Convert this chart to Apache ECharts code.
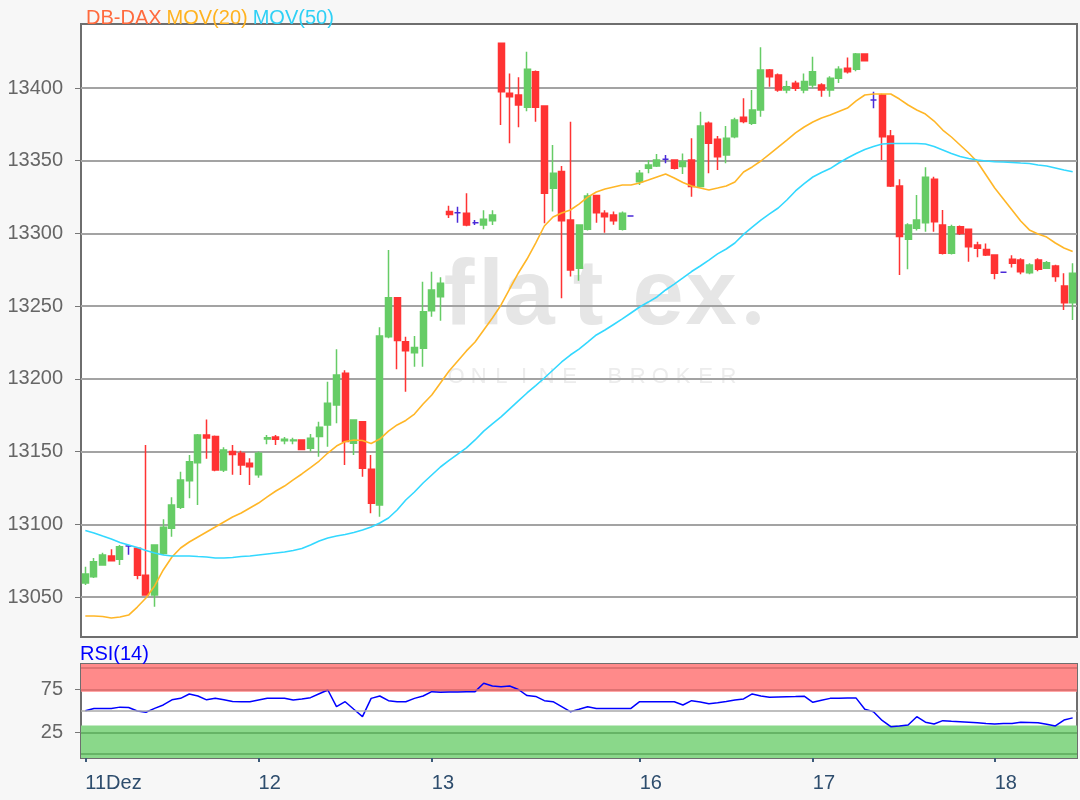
<!DOCTYPE html>
<html>
<head>
<meta charset="utf-8">
<title>DB-DAX</title>
<script src="https://cdn.jsdelivr.net/npm/echarts@6/dist/echarts.min.js"></script>
<style>
  html, body { margin: 0; padding: 0; background: #f7f7f7; }
  #chart { width: 1080px; height: 800px; }
</style>
</head>
<body>
<div id="chart"></div>
<script>
// Kerzen (Index 0..114)
var dayIndex = [0, 20, 40, 64, 84, 105];
var dayNames = ['11Dez', '12', '13', '16', '17', '18'];

var opens = [13059.6, 13064, 13072, 13078.2, 13076, 13085, 13083.5, 13065, 13051.4, 13080,
  13097.2, 13111.7, 13130, 13142.4, 13161.4, 13160.3, 13137.3, 13150, 13148.8, 13142,
  13134, 13158.6, 13160, 13157.5, 13157.5, 13158, 13152.3, 13160.3, 13168.3, 13182,
  13203.8, 13155.7, 13170.5, 13137.8, 13113.3, 13229, 13255.8, 13225.6, 13218, 13221,
  13246.9, 13256.5, 13315, 13314.3, 13313.8, 13307.4, 13305.8, 13308.8, 13430.7, 13396.3,
  13395.2, 13386.7, 13411.2, 13387.6, 13331, 13342.5, 13309.2, 13276, 13302.8, 13326,
  13313.8, 13312.7, 13302.8, 13312, 13335.6, 13344.8, 13346.4, 13351, 13350.5, 13346,
  13350.5, 13332.2, 13375.7, 13364.7, 13353.9, 13366.5, 13379.9, 13375.7, 13384.9, 13412.4,
  13409, 13398.6, 13403.2, 13398.6, 13402, 13402, 13398.6, 13406.7, 13413.6, 13412.9,
  13423.4, 13391.7, 13395.2, 13367, 13332.6, 13296, 13303.5, 13307.4, 13337.2, 13305.8,
  13286.3, 13304.6, 13302.8, 13292, 13289, 13285.2, 13273.3, 13282.2, 13281.7, 13273,
  13281.7, 13276, 13277.6, 13263.9, 13252.4];
var closes = [13065.8, 13074.3, 13078.9, 13075, 13084.6, 13085, 13065, 13051.4, 13085.7, 13098,
  13113.3, 13130.5, 13143, 13161.4, 13159.4, 13137.3, 13151, 13148, 13140.8, 13139.6,
  13148.8, 13159.5, 13158.5, 13158.5, 13158, 13151.5, 13159.1, 13166.7, 13183.2, 13202.6,
  13156.9, 13171.7, 13138.5, 13114.5, 13229.5, 13255.8, 13226.3, 13219.4, 13221.5, 13246.2,
  13261.1, 13265.7, 13313, 13314.3, 13305.8, 13307.4, 13309.7, 13312.7, 13397.5, 13394,
  13388.3, 13412.9, 13386.7, 13327.6, 13341.3, 13308.8, 13274.9, 13305.8, 13325.7, 13314.3,
  13311.5, 13308.8, 13313.8, 13312, 13341.3, 13347, 13350.5, 13351, 13344.8, 13349.4,
  13332.2, 13373.9, 13362, 13352.8, 13365.4, 13378, 13376.9, 13384.9, 13412.4, 13407.8,
  13398.6, 13400.9, 13399.8, 13404.4, 13411.2, 13398.6, 13406.7, 13412.9, 13411.2, 13423.4,
  13418.8, 13391.7, 13366.5, 13332.6, 13297.8, 13305.8, 13309.2, 13338.6, 13308.1, 13286.3,
  13304.6, 13300, 13290.9, 13289.8, 13285.2, 13272.6, 13273.3, 13279.5, 13273.7, 13278.3,
  13275.3, 13279.9, 13270.3, 13252.4, 13272.6];
var lows = [13058.3, 13063, 13071.5, 13074.5, 13072, 13079, 13062.2, 13051, 13043.3, 13079,
  13091.5, 13110.5, 13117.9, 13113.3, 13145, 13136.5, 13136, 13134, 13133.9, 13127,
  13132, 13155, 13154.5, 13155, 13155, 13151, 13150, 13146.5, 13153.3, 13169.4,
  13140.8, 13147.6, 13132.7, 13107.6, 13105.2, 13228, 13206.6, 13191.2, 13208.4, 13208.4,
  13242.7, 13240, 13310.6, 13307.4, 13305, 13305.8, 13302.8, 13305.8, 13374.6, 13362,
  13373, 13384, 13376.8, 13307, 13315, 13255.4, 13270.3, 13267.5, 13302, 13307.4,
  13300.5, 13306, 13302, 13312, 13333.3, 13341.3, 13345.7, 13348.2, 13344, 13340.9,
  13325.3, 13331.5, 13341.3, 13343.6, 13348.2, 13365.4, 13375.7, 13374.5, 13380.3, 13400.9,
  13397.5, 13396.3, 13398, 13396.3, 13399.8, 13394, 13394, 13403.5, 13410, 13411.5,
  13418.5, 13386, 13350.5, 13332, 13271.4, 13275.3, 13302, 13301.2, 13301.2, 13285.5,
  13285.5, 13299, 13280.6, 13283.6, 13284.5, 13268.5, 13273.3, 13276.5, 13272, 13272,
  13274, 13275.5, 13266.8, 13247.4, 13240.5];
var highs = [13070.8, 13076.8, 13080.5, 13082.8, 13085.7, 13085.5, 13084, 13154.5, 13086, 13103.4,
  13118.6, 13136.2, 13147.6, 13162, 13172, 13161, 13153, 13154.5, 13150.5, 13145.4,
  13150, 13161.4, 13161.4, 13160, 13159.5, 13158.5, 13162, 13170.5, 13198, 13220.3,
  13206, 13172, 13171, 13147.6, 13235.5, 13288.6, 13256, 13229, 13229.5, 13266.8,
  13273.7, 13269.8, 13319, 13318.4, 13327.6, 13309.2, 13316, 13316, 13431, 13410,
  13407.4, 13425, 13412, 13388, 13360.8, 13346.4, 13376.8, 13306, 13327.6, 13326.5,
  13316, 13315, 13315, 13312, 13343.6, 13350.5, 13354.6, 13353.9, 13351, 13355,
  13365.4, 13383.7, 13377, 13367, 13373.9, 13379.5, 13393, 13398.6, 13428, 13413,
  13410, 13405, 13405, 13410, 13421.5, 13403.2, 13408, 13415, 13421, 13424,
  13423.6, 13397.5, 13396, 13371.1, 13337.2, 13307, 13326.4, 13345.5, 13339, 13316.1,
  13306, 13305.5, 13303, 13294.3, 13293, 13285.5, 13273.3, 13285, 13283, 13279.5,
  13283, 13281, 13278.5, 13272.6, 13279.5];

var mov20 = [13036.9, 13036.9, 13036.6, 13035.6, 13036.3, 13037.6, 13043.1, 13049.3, 13057.6, 13068.6,
  13077.5, 13083.7, 13087.8, 13091.3, 13094.7, 13098.1, 13101.6, 13105.0, 13107.8, 13111.2,
  13114.6, 13118.8, 13122.9, 13126.3, 13130.5, 13134.6, 13139.0, 13143.5, 13149.0, 13153.8,
  13156.9, 13158.0, 13157.6, 13155.6, 13158.6, 13164.1, 13168.3, 13171.4, 13175.8, 13182.7,
  13188.9, 13197.2, 13205.4, 13212.3, 13219.2, 13225.3, 13233.6, 13241.8, 13250.8, 13261.8,
  13272.8, 13282.4, 13293.4, 13305.1, 13311.3, 13314.0, 13316.1, 13320.2, 13325.0, 13328.5,
  13330.5, 13331.9, 13333.3, 13333.3, 13334.7, 13336.7, 13338.8, 13340.9, 13338.1, 13335.0,
  13332.6, 13331.2, 13329.9, 13331.2, 13332.6, 13335.4, 13342.2, 13345.7, 13349.8, 13354.6,
  13359.4, 13364.2, 13369.1, 13373.2, 13376.6, 13379.4, 13381.4, 13383.8, 13386.2, 13391.1,
  13395.2, 13395.9, 13395.9, 13395.9, 13392.4, 13388.3, 13384.9, 13382.1, 13377.3, 13371.1,
  13366.3, 13360.8, 13355.3, 13349.1, 13340.2, 13331.2, 13323.7, 13316.1, 13308.5, 13302.4,
  13299.6, 13297.5, 13293.4, 13290.0, 13287.6];
var mov50 = [13095.7, 13094.0, 13091.9, 13089.9, 13087.5, 13085.8, 13084.0, 13082.0, 13080.3, 13078.9,
  13078.2, 13078.2, 13078.2, 13077.8, 13077.5, 13076.8, 13076.8, 13077.2, 13077.8, 13078.2,
  13078.9, 13079.6, 13080.3, 13080.9, 13082.0, 13083.3, 13085.8, 13088.5, 13090.6, 13091.9,
  13093.0, 13094.4, 13096.1, 13098.1, 13100.9, 13104.3, 13109.8, 13116.7, 13122.2, 13128.4,
  13133.9, 13139.4, 13143.9, 13148.3, 13152.5, 13158.0, 13164.1, 13169.0, 13173.8, 13179.3,
  13184.8, 13190.3, 13195.4, 13200.6, 13206.1, 13211.6, 13216.4, 13220.5, 13225.3, 13230.2,
  13233.6, 13237.4, 13241.2, 13245.3, 13249.4, 13252.8, 13256.3, 13261.1, 13265.2, 13269.4,
  13273.8, 13277.6, 13281.7, 13285.9, 13289.3, 13293.4, 13299.3, 13304.4, 13309.2, 13313.4,
  13317.5, 13323.0, 13329.2, 13334.3, 13338.8, 13341.9, 13344.6, 13348.4, 13351.9, 13355.0,
  13357.7, 13359.8, 13361.5, 13361.8, 13361.8, 13361.8, 13361.8, 13361.5, 13359.8, 13357.4,
  13355.0, 13352.9, 13351.5, 13350.5, 13349.8, 13349.3, 13349.1, 13348.8, 13348.4, 13348.1,
  13347.1, 13346.4, 13345.0, 13343.6, 13342.4];
var rsi14 = [50.3, 53, 53, 53, 54.5, 54, 50, 48.5, 53, 57,
  63, 64.7, 69.8, 67.4, 63, 64.7, 63, 61, 60.8, 60.8,
  62.8, 64.7, 64.7, 64.7, 62.8, 64, 65.5, 70, 74.4, 55,
  60.8, 52, 43.4, 64.7, 67.4, 62, 60.8, 60.8, 64.7, 67.4,
  72.5, 71.7, 72, 72, 72.3, 72.5, 82.2, 79, 78.3, 79,
  75, 68, 67, 62, 60.8, 55, 49.2, 52, 55, 53,
  53, 53, 53, 53, 60.8, 60.8, 60.8, 60.8, 60.8, 57,
  62, 60.5, 58.5, 59.5, 61, 62.8, 64, 69.8, 67.5, 65.9,
  66.2, 66.5, 66.8, 67.2, 60.1, 62.5, 64.7, 64.8, 65, 65,
  52, 49.2, 39, 31.8, 32.5, 33.7, 43.4, 37, 34.9, 38.8,
  38, 37.6, 37, 36.4, 35.5, 35, 35.5, 35.5, 36.8, 36.6,
  36.4, 34.5, 32.6, 39.5, 42];

var priceTicks = [13050, 13100, 13150, 13200, 13250, 13300, 13350, 13400];
var rsiTicks = [25, 75];

var chart = echarts.init(document.getElementById('chart'));

var labels = opens.map(function (o, i) {
  var k = dayIndex.indexOf(i);
  return k >= 0 ? dayNames[k] : '';
});
var candles = opens.map(function (o, i) {
  return [o, closes[i], lows[i], highs[i]];
});
var hasLabel = function (i, v) { return v !== ''; };
var plain = function (v) { return String(v); };

// Wasserzeichen
var wm = [];
var wmChars = [['f', 459], ['l', 491], ['a', 529], ['t', 588], ['e', 658], ['x', 711]];
wmChars.forEach(function (c) {
  wm.push({
    type: 'text', z: -5, silent: true,
    style: { x: c[1], y: 345, text: c[0], textAlign: 'center', textVerticalAlign: 'bottom',
      font: 'bold 92px "Liberation Sans"', fill: '#e6e6e6' }
  });
});
wm.push({ type: 'circle', z: -5, silent: true, shape: { cx: 753, cy: 318, r: 7 }, style: { fill: '#e6e6e6' } });
'ONLINE BROKER'.split('').forEach(function (ch, k) {
  wm.push({
    type: 'text', z: -5, silent: true,
    style: { x: 456 + k * 22.7, y: 377, text: ch, textAlign: 'center', textVerticalAlign: 'middle',
      font: '22px "Liberation Sans"', fill: '#ececec' }
  });
});
wm.push({
  type: 'text', left: 80, top: 644,
  style: { text: 'RSI(14)', font: '20px "Liberation Sans"', fill: '#0000ff' }
});

var option = {
  animation: false,
  backgroundColor: '#f7f7f7',
  title: {
    left: 81, top: 3,
    text: '{a|DB-DAX} {b|MOV(20)} {c|MOV(50)}',
    textStyle: {
      fontWeight: 'normal',
      rich: {
        a: { color: '#ff6a3d', fontSize: 20, fontWeight: 'normal', fontFamily: 'Liberation Sans' },
        b: { color: '#ffb21f', fontSize: 20, fontWeight: 'normal', fontFamily: 'Liberation Sans' },
        c: { color: '#2fd0f5', fontSize: 20, fontWeight: 'normal', fontFamily: 'Liberation Sans' }
      }
    }
  },
  graphic: wm,
  grid: [
    { left: 81, top: 24, width: 996, height: 613, show: true, z: -10,
      backgroundColor: '#ffffff', borderColor: '#6e6e6e', borderWidth: 2 },
    { left: 81, top: 664, width: 996, height: 94, show: true, z: -10,
      backgroundColor: '#ffffff', borderColor: '#6e6e6e', borderWidth: 2 }
  ],
  xAxis: [
    { type: 'category', gridIndex: 0, data: labels, boundaryGap: true,
      axisLine: { show: false }, axisTick: { show: false }, axisLabel: { show: false } },
    { type: 'category', gridIndex: 1, data: labels, boundaryGap: true,
      axisLine: { show: false },
      axisTick: { show: true, alignWithLabel: true, interval: hasLabel, length: 8,
        lineStyle: { color: '#3d5a78', width: 2 } },
      axisLabel: { interval: hasLabel, align: 'left', margin: 15, color: '#2e4d6d',
        fontSize: 20, fontFamily: 'Liberation Sans' } }
  ],
  yAxis: [
    { type: 'value', gridIndex: 0, min: 13022.5, max: 13444,
      axisLine: { show: false },
      axisTick: { show: true, length: 6, customValues: priceTicks, lineStyle: { color: '#777' } },
      axisLabel: { customValues: priceTicks, formatter: plain, margin: 18, color: '#666',
        fontSize: 20, fontFamily: 'Liberation Sans' },
      splitLine: { show: true, lineStyle: { color: '#a3a3a3', width: 2 } } },
    { type: 'value', gridIndex: 1, min: -4.65, max: 104.65,
      axisLine: { show: false },
      axisTick: { show: true, length: 6, customValues: rsiTicks, lineStyle: { color: '#777' } },
      axisLabel: { customValues: rsiTicks, formatter: plain, margin: 18, color: '#666',
        fontSize: 20, fontFamily: 'Liberation Sans' },
      splitLine: { show: false } }
  ],
  series: [
    { name: 'DB-DAX', type: 'candlestick', xAxisIndex: 0, yAxisIndex: 0, data: candles,
      barWidth: 6.5,
      itemStyle: { color: '#66cc66', color0: '#ff3333', borderColor: '#66cc66',
        borderColor0: '#ff3333', borderColorDoji: '#4a2ad8', borderWidth: 1.5 } },
    { name: 'MOV(20)', type: 'line', xAxisIndex: 0, yAxisIndex: 0, data: mov20,
      symbol: 'none', z: 3, lineStyle: { color: '#ffb627', width: 1.6 } },
    { name: 'MOV(50)', type: 'line', xAxisIndex: 0, yAxisIndex: 0, data: mov50,
      symbol: 'none', z: 3, lineStyle: { color: '#33d8ff', width: 1.6 } },
    { name: 'RSI(14)', type: 'line', xAxisIndex: 1, yAxisIndex: 1, data: rsi14,
      symbol: 'none', z: 3, lineStyle: { color: '#0000ff', width: 1.5 },
      markArea: {
        silent: true,
        data: [
          [{ yAxis: 72.5, itemStyle: { color: '#ff8a8a' } }, { yAxis: 104.65 }],
          [{ yAxis: -4.65, itemStyle: { color: '#8ad88a' } }, { yAxis: 33 }]
        ]
      },
      markLine: {
        silent: true, symbol: 'none', label: { show: false },
        data: [
          { yAxis: 100, lineStyle: { color: '#d46a6a', type: 'solid', width: 1.5 } },
          { yAxis: 75, lineStyle: { color: '#d46a6a', type: 'solid', width: 1.5 } },
          { yAxis: 50, lineStyle: { color: '#aaaaaa', type: 'solid', width: 1.5 } },
          { yAxis: 25, lineStyle: { color: '#5aa85a', type: 'solid', width: 1.5 } },
          { yAxis: 0, lineStyle: { color: '#5aa85a', type: 'solid', width: 1.5 } }
        ]
      }
    }
  ]
};
chart.setOption(option);
</script>
</body>
</html>
